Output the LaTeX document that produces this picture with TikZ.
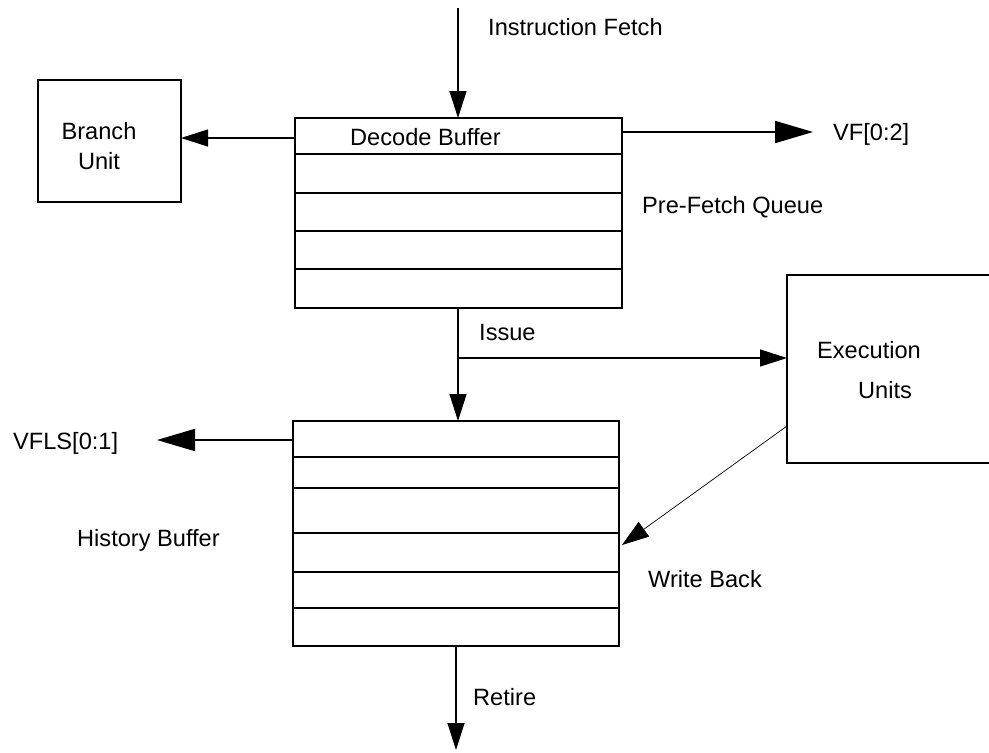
\documentclass[tikz,border=0pt]{standalone}
\usepackage{fontspec}
\setmainfont{Liberation Sans}
\usetikzlibrary{arrows.meta}
\begin{document}
\begin{tikzpicture}[x=1pt,y=-1pt,
  box/.style={draw,line width=1.3pt,inner sep=0pt,outer sep=0pt},
  rowline/.style={line width=1.2pt},
  thickrow/.style={line width=2.2pt},
  lbl/.style={anchor=west,inner sep=0pt,text height=16.9pt,text depth=0pt,font=\fontsize{23.6}{30}\selectfont},
  clbl/.style={anchor=center,inner sep=0pt,text height=16.9pt,text depth=0pt,font=\fontsize{23.6}{30}\selectfont},
  arr/.style={line width=1.3pt,-{Triangle[length=27pt,width=17pt]}},
  bigarr/.style={line width=2pt,-{Triangle[length=38pt,width=22pt]}},
  thinarr/.style={line width=0.7pt,-{Triangle[length=27pt,width=18pt]}}]
\useasboundingbox[fill=white] (0,0) rectangle (989,753);

% Pre-fetch queue
\node[box,minimum width=327pt,minimum height=190pt] (pfq) at (458.5,213) {};
\draw[rowline] (pfq.west |- 0,154) -- (pfq.east |- 0,154);
\draw[rowline] (pfq.west |- 0,193) -- (pfq.east |- 0,193);
\draw[rowline] (pfq.west |- 0,231) -- (pfq.east |- 0,231);
\draw[thickrow] (pfq.west |- 0,269) -- (pfq.east |- 0,269);

% History buffer
\node[box,minimum width=326pt,minimum height=225pt] (hb) at (456,533.5) {};
\draw[rowline] (hb.west |- 0,457) -- (hb.east |- 0,457);
\draw[rowline] (hb.west |- 0,488) -- (hb.east |- 0,488);
\draw[rowline] (hb.west |- 0,533) -- (hb.east |- 0,533);
\draw[thickrow] (hb.west |- 0,572) -- (hb.east |- 0,572);
\draw[rowline] (hb.west |- 0,608) -- (hb.east |- 0,608);

% Branch unit
\node[box,minimum width=143pt,minimum height=122pt] (bu) at (109.5,141) {};
\node[clbl] (bul1) at (99,131) {Branch};
\node[clbl] (bul2) at (99,161) {Unit};

% Execution units (right side runs off the page)
\coordinate (eutl) at (787,275);
\coordinate (eubl) at (787,463);
\coordinate (eutr) at (989,275);
\coordinate (eubr) at (989,463);
\draw[line width=1.3pt] (eutr) -- (eutl) -- (eubl) -- (eubr);
\node[lbl] (eul1) at (817,350) {Execution};
\node[lbl] (eul2) at (858,390) {Units};

% Labels
\node[lbl] (ifl) at (488,27) {Instruction Fetch};
\node[lbl] (dbl) at (350,137) {Decode Buffer};
\node[lbl] (vfl) at (833,132) {VF[0:2]};
\node[lbl] (pfl) at (642,205) {Pre-Fetch Queue};
\node[lbl] (isl) at (479,332) {Issue};
\node[lbl] (vfls) at (13,441) {VFLS[0:1]};
\node[lbl] (hbl) at (77,538) {History Buffer};
\node[lbl] (wbl) at (648,579) {Write Back};
\node[lbl] (rtl) at (473,697) {Retire};

% Connectors
\coordinate (iftop) at (458,8);
\draw[arr] (iftop) -- (iftop |- pfq.north);

\coordinate (brs) at (295,138);
\draw[arr] (brs) -- (brs -| bu.east);

\coordinate (vfs) at (622,132);
\coordinate (vfe) at (813,132);
\draw[bigarr] (vfs) -- (vfe);

\coordinate (iss) at (458,308);
\coordinate (isb) at (458,358);
\draw[arr] (iss) -- (iss |- hb.north);
\draw[arr] (isb) -- (isb -| eutl);

\coordinate (wbs) at (787,426);
\coordinate (wbe) at (622,545);
\draw[thinarr] (wbs) -- (wbe);

\coordinate (vlss) at (293,440);
\coordinate (vlse) at (157,440);
\draw[bigarr] (vlss) -- (vlse);

\coordinate (rts) at (456,646);
\coordinate (rte) at (456,750);
\draw[arr] (rts) -- (rte);
\end{tikzpicture}
\end{document}
